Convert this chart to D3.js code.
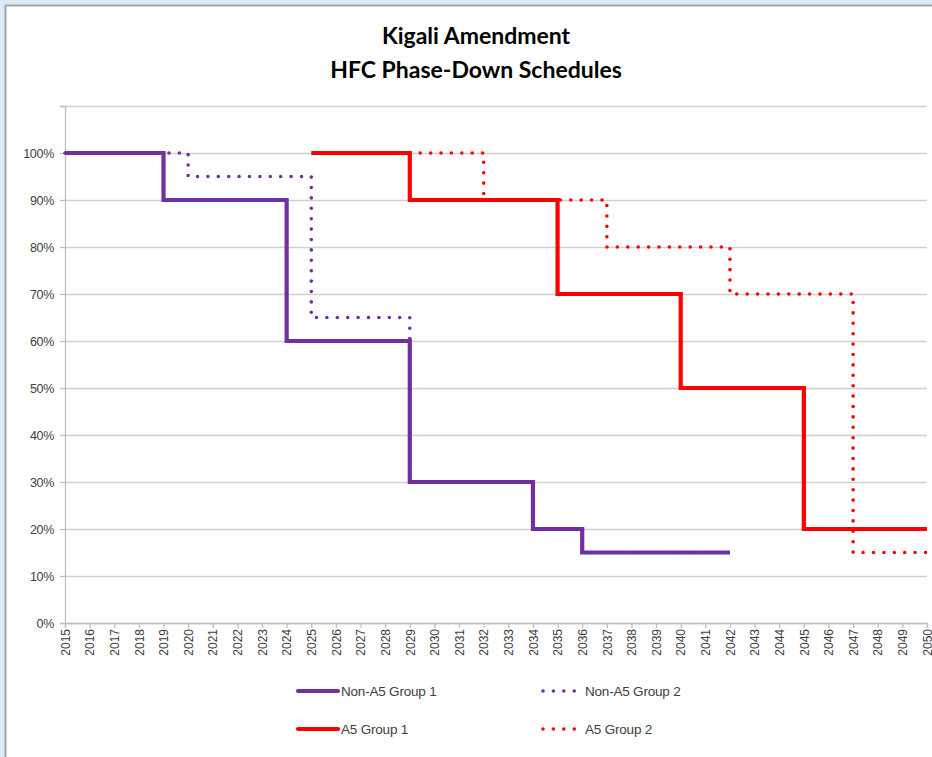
<!DOCTYPE html>
<html>
<head>
<meta charset="utf-8">
<script src="https://cdn.jsdelivr.net/npm/d3@7"></script>
<style>
  html, body { margin: 0; padding: 0; background: #dce9f7; }
  svg { display: block; }
</style>
</head>
<body>
<svg id="chart" width="932" height="757"></svg>
<script>
// ---- data ----
const years = d3.range(2015, 2051);           // category ticks
const yTicks = [0, 10, 20, 30, 40, 50, 60, 70, 80, 90, 100];
const titleLines = ["Kigali Amendment", "HFC Phase-Down Schedules"];

const nonA5G1Years  = [2015, 2019, 2024, 2029, 2034, 2036, 2042];
const nonA5G1Values = [100, 90, 60, 30, 20, 15, 15];

const nonA5G2Years  = [2015, 2020, 2025, 2029, 2034, 2036, 2042];
const nonA5G2Values = [100, 95, 65, 30, 20, 15, 15];

const a5G1Years  = [2025, 2029, 2035, 2040, 2045, 2050];
const a5G1Values = [100, 90, 70, 50, 20, 20];

const a5G2Years  = [2029, 2032, 2037, 2042, 2047, 2050];
const a5G2Values = [100, 90, 80, 70, 15, 15];

const purple = "#7030a0", red = "#ff0000";
const series = [
  { name: "Non-A5 Group 2", years: nonA5G2Years, values: nonA5G2Values, color: purple, dotted: true },
  { name: "A5 Group 2",     years: a5G2Years,    values: a5G2Values,    color: red,    dotted: true },
  { name: "Non-A5 Group 1", years: nonA5G1Years, values: nonA5G1Values, color: purple, dotted: false },
  { name: "A5 Group 1",     years: a5G1Years,    values: a5G1Values,    color: red,    dotted: false }
];

// ---- layout ----
const svg = d3.select("#chart");
const W = 932, H = 757;
const plot = { left: 65, right: 927, top: 106, bottom: 623 };

// chart background + border
svg.append("rect").attr("x", 6).attr("y", 6).attr("width", W).attr("height", H)
  .attr("fill", "#ffffff");
svg.append("line").attr("x1", 5.5).attr("x2", 5.5).attr("y1", 5).attr("y2", H)
  .attr("stroke", "#a6a6a6").attr("stroke-width", 2);
svg.append("line").attr("x1", 5).attr("x2", W).attr("y1", 5.5).attr("y2", 5.5)
  .attr("stroke", "#a6a6a6").attr("stroke-width", 2);

const x = d3.scaleLinear().domain([2015, 2050]).range([plot.left, plot.right]);
const y = d3.scaleLinear().domain([0, 110]).range([plot.bottom, plot.top]);

const font = "'Liberation Sans', Arial, sans-serif";
const textColor = "#404040";

// title
svg.append("g").selectAll("text").data(titleLines).join("text")
  .attr("x", 476).attr("y", (d, i) => 44 + i * 34)
  .attr("text-anchor", "middle")
  .attr("font-family", "Lato, 'Open Sans', sans-serif")
  .attr("font-weight", "bold").attr("font-size", 23)
  .attr("fill", "#000")
  .text(d => d);

// gridlines
const gridVals = yTicks.concat([110]);
svg.append("g").selectAll("line").data(gridVals).join("line")
  .attr("x1", plot.left).attr("x2", plot.right)
  .attr("y1", d => Math.round(y(d)) + 0.5).attr("y2", d => Math.round(y(d)) + 0.5)
  .attr("stroke", "#d0d0d0").attr("stroke-width", 1.3);

// y axis
const yAxis = d3.axisLeft(y).tickValues(gridVals).tickSize(5).tickPadding(6)
  .tickFormat(d => d > 100 ? "" : d + "%");
const gy = svg.append("g").attr("transform", `translate(${plot.left},0)`).call(yAxis);
gy.select(".domain").attr("stroke", "#bfbfbf").attr("stroke-width", 1.3);
gy.selectAll(".tick line").attr("stroke", "#bfbfbf").attr("stroke-width", 1.3);
gy.selectAll(".tick text").attr("font-family", font).attr("font-size", 12.5)
  .attr("fill", textColor).attr("letter-spacing", "-0.3");

// x axis
const xAxis = d3.axisBottom(x).tickValues(years).tickSize(5).tickPadding(4)
  .tickFormat(d => String(d));
const gx = svg.append("g").attr("transform", `translate(0,${plot.bottom})`).call(xAxis);
gx.select(".domain").attr("stroke", "#bfbfbf").attr("stroke-width", 1.3);
gx.selectAll(".tick line").attr("stroke", "#bfbfbf").attr("stroke-width", 1.3);
gx.selectAll(".tick text")
  .attr("font-family", font).attr("font-size", 12).attr("fill", textColor)
  .attr("transform", "rotate(-90)")
  .attr("text-anchor", "end")
  .attr("x", -6).attr("y", 0).attr("dy", "0.35em");

// lines
const line = d3.line().curve(d3.curveStepAfter)
  .x(d => x(d[0])).y(d => y(d[1]));

svg.append("g").selectAll("path").data(series).join("path")
  .attr("d", s => line(s.years.map((yr, i) => [yr, s.values[i]])))
  .attr("fill", "none")
  .attr("stroke", s => s.color)
  .attr("stroke-width", s => s.dotted ? 3.6 : 4.2)
  .attr("stroke-linecap", s => s.dotted ? "round" : "butt")
  .attr("stroke-linejoin", "miter")
  .attr("stroke-dasharray", s => s.dotted ? "0 10.4" : null);

// legend
const legendItems = [
  { name: "Non-A5 Group 1", color: purple, dotted: false, col: 0, row: 0 },
  { name: "Non-A5 Group 2", color: purple, dotted: true,  col: 1, row: 0 },
  { name: "A5 Group 1",     color: red,    dotted: false, col: 0, row: 1 },
  { name: "A5 Group 2",     color: red,    dotted: true,  col: 1, row: 1 }
];
const lg = svg.append("g").selectAll("g").data(legendItems).join("g")
  .attr("transform", d => `translate(${d.col ? 541 : 298},${d.row ? 729 : 691})`);
lg.append("line")
  .attr("x1", d => d.dotted ? 2 : 0).attr("x2", d => d.dotted ? 36 : 40)
  .attr("y1", 0).attr("y2", 0)
  .attr("stroke", d => d.color)
  .attr("stroke-width", d => d.dotted ? 3.6 : 4.2)
  .attr("stroke-linecap", "round")
  .attr("stroke-dasharray", d => d.dotted ? "0 10.4" : null);
lg.append("text")
  .attr("x", d => d.dotted ? 44 : 43).attr("y", 0).attr("dy", "0.35em")
  .attr("font-family", font).attr("font-size", 13.5).attr("fill", textColor)
  .attr("letter-spacing", "-0.2")
  .text(d => d.name);
</script>
</body>
</html>
